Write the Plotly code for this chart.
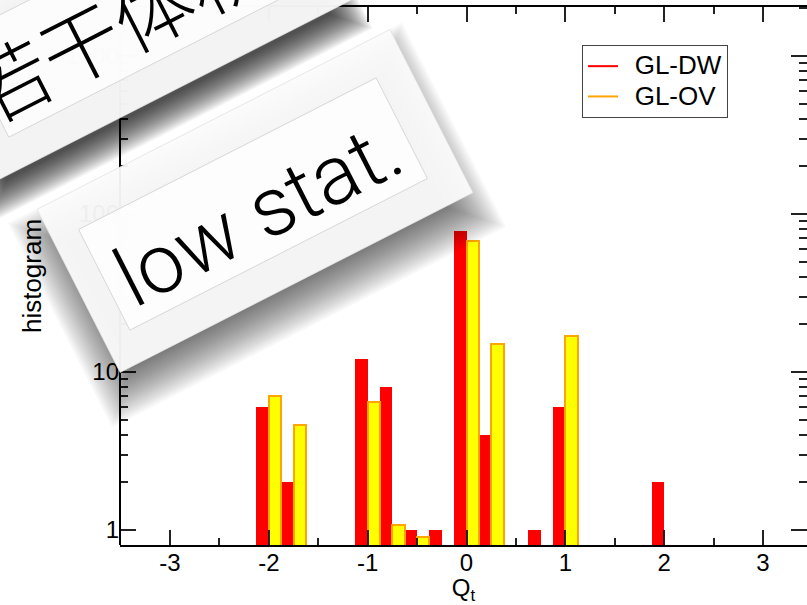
import math
import plotly.graph_objects as go

# Histogram of the topological charge Q_t, bin width 0.25
q_bins = [-2.0, -1.75, -1.0, -0.75, -0.5, -0.25, 0.0, 0.25, 0.75, 1.0, 2.0]
dw_counts = [6, 2, 12, 8, 1, 1, 78, 4, 1, 6, 2]
ov_counts = [7.0, 4.6, 6.5, 1.08, 0.9, None, 67, 15, None, 17, None]

x_tickvals = [-3, -2, -1, 0, 1, 2, 3]
x_ticktext = ["-3", "-2", "-1", "0", "1", "2", "3"]
y_tickvals = [1, 10, 100, 1000]
y_ticktext = ["1", "10", "100", "1000"]
y_minor = [m * 10 ** e for e in range(0, 4) for m in range(2, 10)]

series_names = ["GL-DW", "GL-OV"]
note_text = "low stat."
banner_text = "若干体积"

# page / plot-area geometry in pixels
W, H = 807, 605
M_L, M_R, M_T, M_B = 120, 0, 7, 60
PW = W - M_L - M_R
PH = H - M_T - M_B


def to_paper(px, py):
    return (px - M_L) / PW, 1 - (py - M_T) / PH


def rot_rect_path(cx, cy, w, h, ang):
    a = math.radians(ang)
    ux, uy = math.cos(a), -math.sin(a)      # along the long side
    nx, ny = -math.sin(a), -math.cos(a)     # upward normal
    pts = []
    for su, sn in [(-1, -1), (1, -1), (1, 1), (-1, 1)]:
        px = cx + su * ux * w / 2 + sn * nx * h / 2
        py = cy + su * uy * w / 2 + sn * ny * h / 2
        pts.append(to_paper(px, py))
    return "M " + " L ".join(f"{x:.5f},{y:.5f}" for x, y in pts) + " Z"


def rect_shape(cx, cy, w, h, ang, fill, line_color="rgba(0,0,0,0)", line_width=0):
    return dict(type="path", xref="paper", yref="paper", layer="above",
                path=rot_rect_path(cx, cy, w, h, ang),
                fillcolor=fill, line=dict(color=line_color, width=line_width))


def soft_shadow(cx, cy, w, h, ang, dx, dy, blur, peak, k=22):
    a = 1 - (1 - peak) ** (1 / k)
    out = []
    for i in range(k):
        s = blur * (1 - 2 * (i + 0.5) / k)
        out.append(rect_shape(cx + dx, cy + dy, w + 2 * s, h + 2 * s, ang,
                              f"rgba(0,0,0,{a:.4f})"))
    return out


ANG = 27
# tilted card boxes: (center x, center y) in px
banner_c = (134, 8)
note_c = (255, 201)
note_inner_c = (253, 204)
CARD_W, CARD_H = 396, 183
INNER_W, INNER_H = 334, 113

shapes = []
# left axis line (right side carries ticks only)
shapes.append(dict(type="line", xref="paper", yref="paper", layer="above",
                   x0=0, x1=0, y0=0, y1=1, line=dict(color="black", width=2)))
# banner card
shapes += soft_shadow(banner_c[0], banner_c[1], CARD_W, CARD_H, ANG, 0, 22, 16, 0.66)
shapes.append(rect_shape(banner_c[0], banner_c[1], CARD_W, CARD_H, ANG,
                         "rgba(252,252,252,0.95)", "rgba(225,225,225,0.7)", 1))
shapes.append(rect_shape(banner_c[0] - 2, banner_c[1] + 3, INNER_W, INNER_H, ANG,
                         "rgba(255,255,255,0.7)", "rgba(215,215,215,1)", 1))
# "low stat." card
shapes += soft_shadow(note_c[0], note_c[1], CARD_W, CARD_H, ANG, 2, 24, 24, 0.52)
shapes.append(rect_shape(note_c[0], note_c[1], CARD_W, CARD_H, ANG,
                         "rgba(251,251,251,0.95)", "rgba(225,225,225,0.7)", 1))
shapes.append(rect_shape(note_inner_c[0], note_inner_c[1], INNER_W, INNER_H, ANG,
                         "rgba(255,255,255,0.8)", "rgba(215,215,215,1)", 1))

fig = go.Figure()
fig.add_trace(go.Bar(x=q_bins, y=dw_counts, name=series_names[0], showlegend=False,
                     marker=dict(color="#ff0000", line=dict(width=0))))
fig.add_trace(go.Bar(x=q_bins, y=ov_counts, name=series_names[1], showlegend=False,
                     marker=dict(color="#ffff00", line=dict(color="#ffa500", width=2))))

FONT = "Liberation Sans, Arial, sans-serif"
LEG_FONT = 26


def legend_label(name):
    return f'\u00a0\u00a0<span style="font-size:{LEG_FONT}px">{name}</span>'


# legend entries drawn as line samples
fig.add_trace(go.Scatter(x=[None], y=[None], mode="lines", name=legend_label(series_names[0]),
                         line=dict(color="#ff0000", width=2)))
fig.add_trace(go.Scatter(x=[None], y=[None], mode="lines", name=legend_label(series_names[1]),
                         line=dict(color="#ffa500", width=2)))

bx, by = to_paper(115, 23)
nx_, ny_ = to_paper(258, 213)
annotations = [
    dict(text=banner_text, xref="paper", yref="paper", x=bx, y=by, showarrow=False,
         xanchor="center", yanchor="middle", textangle=-ANG,
         font=dict(family="Noto Sans CJK SC", size=80, color="black", weight=300)),
    dict(text=note_text, xref="paper", yref="paper", x=nx_, y=ny_, showarrow=False,
         xanchor="center", yanchor="middle", textangle=-ANG,
         font=dict(family="Roboto", size=83, color="black", weight=300)),
]

lx, ly = to_paper(582, 45)

fig.update_layout(
    width=W, height=H,
    margin=dict(l=M_L, r=M_R, t=M_T, b=M_B, pad=0),
    paper_bgcolor="white", plot_bgcolor="white",
    barmode="group", bargap=0, bargroupgap=0,
    font=dict(family=FONT, size=24, color="black"),
    showlegend=True,
    legend=dict(x=lx, y=ly, xanchor="left", yanchor="top",
                bgcolor="white", bordercolor="#444", borderwidth=1,
                font=dict(family=FONT, size=21, color="black"),
                tracegroupgap=0, itemwidth=30),
    shapes=shapes,
    annotations=annotations,
    xaxis=dict(
        range=[-3.506, 3.445], tickmode="array", tickvals=x_tickvals, ticktext=x_ticktext,
        ticks="inside", ticklen=15, tickwidth=1.5, tickcolor="#222",
        minor=dict(ticks="inside", ticklen=7, tickwidth=1.5, tickcolor="#222",
                   tickvals=[-2.5, -1.5, -0.5, 0.5, 1.5, 2.5]),
        showline=True, linewidth=2, linecolor="black", mirror="allticks",
        showgrid=False, zeroline=False, ticklabelstandoff=-5,
        tickfont=dict(family=FONT, size=24, color="black"),
        title=dict(text="Q<sub>t</sub>", font=dict(family=FONT, size=24, color="black"),
                   standoff=4),
    ),
    yaxis=dict(
        type="log", range=[-0.095, 3.31], tickmode="array",
        tickvals=y_tickvals, ticktext=y_ticktext,
        ticks="inside", ticklen=16, tickwidth=1.5, tickcolor="#222",
        minor=dict(ticks="inside", ticklen=8, tickwidth=1.5, tickcolor="#222",
                   tickvals=y_minor),
        showline=False, mirror="ticks",
        showgrid=False, zeroline=False,
        tickfont=dict(family=FONT, size=24, color="black"),
        title=dict(text="histogram", font=dict(family=FONT, size=26, color="black"),
                   standoff=16),
    ),
)

fig.write_html("out.html")
